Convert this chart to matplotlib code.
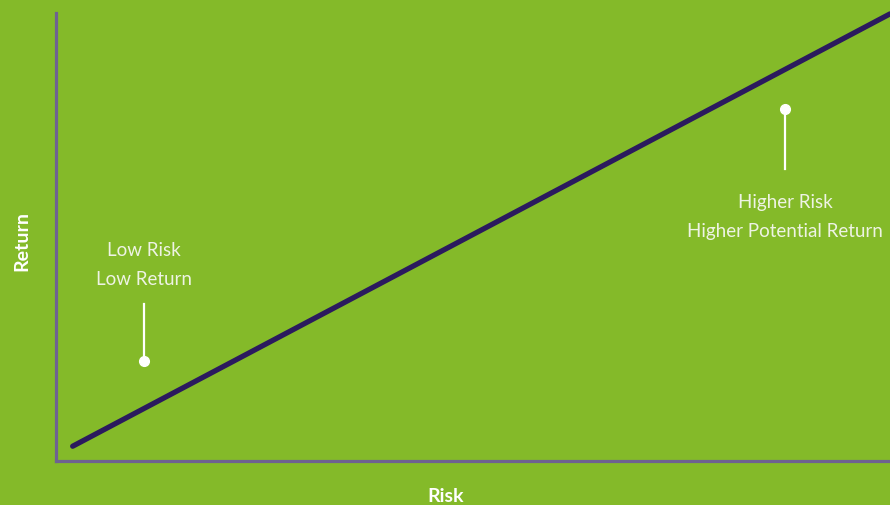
import matplotlib
matplotlib.use("Agg")
import matplotlib.pyplot as plt

# Data (arbitrary risk/return units, 0-10)
risk = [0.2, 10.0]
ret = [0.33, 9.98]

ann_labels = ["Low Risk\nLow Return", "Higher Risk\nHigher Potential Return"]
ann_dot_x = [1.055, 8.74]
ann_dot_y = [2.23, 7.86]
ann_end_y = [3.50, 6.52]
ann_text_y = [3.88, 5.99]
ann_va = ["bottom", "top"]

BG = "#84BA29"
AX = "#6E6291"
LINE = "#2B1A5E"

W, H = 890, 506
fig = plt.figure(figsize=(W / 100, H / 100), dpi=100, facecolor=BG)
ax = fig.add_axes([56 / W, (H - 462) / H, (W - 56) / W, (462 - 14) / H])
ax.set_facecolor(BG)
ax.set_xlim(0, 10)
ax.set_ylim(0, 10)
ax.set_xticks([])
ax.set_yticks([])
for s in ["top", "right"]:
    ax.spines[s].set_visible(False)
for s in ["left", "bottom"]:
    ax.spines[s].set_color(AX)
    ax.spines[s].set_linewidth(2.3)

ax.plot(risk, ret, color=LINE, lw=3.8, solid_capstyle="round", clip_on=False)

for lab, dx, dy, ey, ty, va in zip(ann_labels, ann_dot_x, ann_dot_y, ann_end_y, ann_text_y, ann_va):
    ax.plot([dx, dx], [dy, ey], color="white", lw=1.6)
    ax.plot([dx], [dy], "o", color="white", ms=7)
    ax.text(dx, ty, lab, ha="center", va=va, color="#EEF3E4", fontsize=13.5,
            family="Lato", fontweight="normal", linespacing=1.85)

fig.text(446 / W, 1 - 497 / H, "Risk", ha="center", va="center", color="white",
         fontsize=14, family="Lato", fontweight="bold")
fig.text(22 / W, 1 - 241 / H, "Return", ha="center", va="center", color="white",
         fontsize=14, family="Lato", fontweight="bold", rotation=90)

fig.savefig("out.png", dpi=100, facecolor=BG)
